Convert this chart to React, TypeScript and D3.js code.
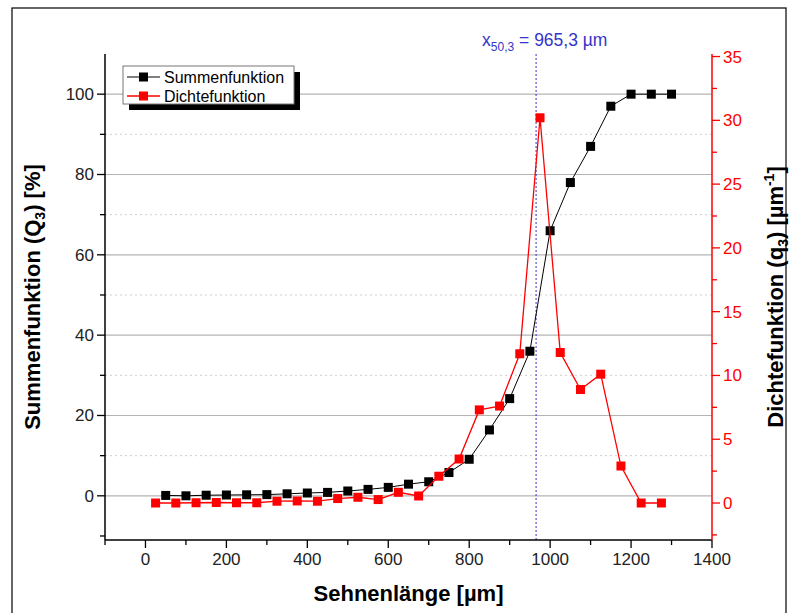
import React from "react";
import * as d3 from "d3";

// Chord length classes [µm]
const sumX = [50, 100, 150, 200, 250, 300, 350, 400, 450, 500, 550, 600, 650, 700, 750, 800, 850, 900, 950, 1000, 1050, 1100, 1150, 1200, 1250, 1300];
// Cumulative distribution Q3 [%]
const sumQ3 = [0.1, 0, 0.15, 0.2, 0.25, 0.3, 0.5, 0.7, 0.85, 1.2, 1.6, 2.1, 2.9, 3.5, 5.8, 9.1, 16.4, 24.2, 36, 66, 78, 87, 97, 100, 100, 100];
// Class mid points for the density
const densX = [25, 75, 125, 175, 225, 275, 325, 375, 425, 475, 525, 575, 625, 675, 725, 775, 825, 875, 925, 975, 1025, 1075, 1125, 1175, 1225, 1275];
// Density distribution q3
const densQ3 = [0, 0, 0.02, 0.04, 0.02, 0.02, 0.14, 0.16, 0.14, 0.35, 0.45, 0.27, 0.84, 0.55, 2.1, 3.45, 7.3, 7.6, 11.7, 30.2, 11.8, 8.9, 10.1, 2.9, 0, 0];

const x50 = 965.3;

const xMajor = [0, 200, 400, 600, 800, 1000, 1200, 1400];
const xMinor = [-100, 100, 300, 500, 700, 900, 1100, 1300];
const leftMajor = [0, 20, 40, 60, 80, 100];
const leftMinor = [-10, 10, 30, 50, 70, 90];
const rightMajor = [0, 5, 10, 15, 20, 25, 30, 35];
const rightMinor = [-2.5, 2.5, 7.5, 12.5, 17.5, 22.5, 27.5, 32.5];

const FONT = "'Liberation Sans', Arial, sans-serif";
const RED = "#ff0000";
const BLUE = "#3434c8";

export default function App() {
  const L = 105, R = 712, T = 54, B = 540;
  const x = d3.scaleLinear().domain([-100, 1400]).range([L, R]);
  const yL = d3.scaleLinear().domain([-11, 110]).range([B, T]);
  const yR = d3.scaleLinear().domain([-2.9, 35.2]).range([B, T]);

  const sumLine = d3.line<number>().x((_, i) => x(sumX[i])).y((d) => yL(d));
  const densLine = d3.line<number>().x((_, i) => x(densX[i])).y((d) => yR(d));

  const ms = 9;

  return (
    <svg width={794} height={613} style={{ position: "absolute", left: 0, top: 0, background: "#fff" }} fontFamily={FONT}>
      {/* outer frame */}
      <rect x={12} y={8} width={774} height={612} fill="none" stroke="#000" strokeWidth={1.2} />

      {/* grid */}
      {leftMinor.filter((v) => v > 0).map((v) => (
        <line key={"gm" + v} x1={L} x2={R} y1={yL(v)} y2={yL(v)} stroke="#cfcfcf" strokeWidth={1} strokeDasharray="2,3" />
      ))}
      {leftMajor.map((v) => (
        <line key={"gM" + v} x1={L} x2={R} y1={yL(v)} y2={yL(v)} stroke="#b4b4b4" strokeWidth={1.2} />
      ))}

      {/* x50 marker */}
      <line x1={x(x50)} x2={x(x50)} y1={T} y2={B} stroke={BLUE} strokeWidth={1} strokeDasharray="2,2" />
      <text x={x(x50) - 54} y={46} fontSize={17.5} fill={BLUE}>
        <tspan>x</tspan>
        <tspan fontSize={12} dy={5}>50,3</tspan>
        <tspan dy={-5}> = 965,3 µm</tspan>
      </text>

      {/* series */}
      <path d={sumLine(sumQ3) || ""} fill="none" stroke="#000" strokeWidth={1} />
      {sumQ3.map((v, i) => (
        <rect key={"s" + i} x={x(sumX[i]) - ms / 2} y={yL(v) - ms / 2} width={ms} height={ms} fill="#000" />
      ))}
      <path d={densLine(densQ3) || ""} fill="none" stroke={RED} strokeWidth={1.3} />
      {densQ3.map((v, i) => (
        <rect key={"d" + i} x={x(densX[i]) - ms / 2} y={yR(v) - ms / 2} width={ms} height={ms} fill={RED} />
      ))}

      {/* bottom axis */}
      <line x1={L} x2={R} y1={B} y2={B} stroke="#000" strokeWidth={1.5} />
      {xMajor.map((v) => (
        <g key={"xt" + v}>
          <line x1={x(v)} x2={x(v)} y1={B} y2={B + 8} stroke="#000" strokeWidth={1.3} />
          <text x={x(v)} y={B + 25} fontSize={17} textAnchor="middle" fill="#222">{v}</text>
        </g>
      ))}
      {xMinor.map((v) => (
        <line key={"xm" + v} x1={x(v)} x2={x(v)} y1={B} y2={B + 5} stroke="#000" strokeWidth={1.3} />
      ))}
      <text x={(L + R) / 2} y={601} fontSize={22} fontWeight="bold" textAnchor="middle" fill="#000">Sehnenlänge [µm]</text>

      {/* left axis */}
      <line x1={L} x2={L} y1={T} y2={B} stroke="#000" strokeWidth={1.5} />
      {leftMajor.map((v) => (
        <g key={"lt" + v}>
          <line x1={L} x2={L - 8} y1={yL(v)} y2={yL(v)} stroke="#000" strokeWidth={1.3} />
          <text x={L - 11} y={yL(v) + 6} fontSize={17} textAnchor="end" fill="#222">{v}</text>
        </g>
      ))}
      {leftMinor.map((v) => (
        <line key={"lm" + v} x1={L} x2={L - 5} y1={yL(v)} y2={yL(v)} stroke="#000" strokeWidth={1.3} />
      ))}
      <text transform={`translate(40,${(T + B) / 2}) rotate(-90)`} fontSize={22} fontWeight="bold" textAnchor="middle" fill="#000">
        <tspan>Summenfunktion (Q</tspan>
        <tspan fontSize={14} dy={5}>3</tspan>
        <tspan dy={-5}>) [%]</tspan>
      </text>

      {/* right axis */}
      <line x1={R} x2={R} y1={T} y2={B} stroke={RED} strokeWidth={1.5} />
      {rightMajor.map((v) => (
        <g key={"rt" + v}>
          <line x1={R} x2={R + 8} y1={yR(v)} y2={yR(v)} stroke={RED} strokeWidth={1.3} />
          <text x={R + 11} y={yR(v) + 6} fontSize={17} fill={RED}>{v}</text>
        </g>
      ))}
      {rightMinor.map((v) => (
        <line key={"rm" + v} x1={R} x2={R + 5} y1={yR(v)} y2={yR(v)} stroke={RED} strokeWidth={1.3} />
      ))}
      <text transform={`translate(783,${(T + B) / 2}) rotate(-90)`} fontSize={22} fontWeight="bold" textAnchor="middle" fill="#000">
        <tspan>Dichtefunktion (q</tspan>
        <tspan fontSize={14} dy={5}>3</tspan>
        <tspan dy={-5}>) [µm</tspan>
        <tspan fontSize={14} dy={-9}>-1</tspan>
        <tspan dy={9}>]</tspan>
      </text>

      {/* legend */}
      <rect x={129} y={72} width={171} height={38} fill="#000" />
      <rect x={123} y={66} width={171} height={38} fill="#fff" stroke="#777" strokeWidth={1} />
      <line x1={127} x2={160} y1={77} y2={77} stroke="#000" strokeWidth={1} />
      <rect x={143.5 - ms / 2} y={77 - ms / 2} width={ms} height={ms} fill="#000" />
      <text x={164} y={83} fontSize={16} fill="#000">Summenfunktion</text>
      <line x1={127} x2={160} y1={96} y2={96} stroke={RED} strokeWidth={1.3} />
      <rect x={143.5 - ms / 2} y={96 - ms / 2} width={ms} height={ms} fill={RED} />
      <text x={164} y={102} fontSize={16} fill="#000">Dichtefunktion</text>
    </svg>
  );
}
